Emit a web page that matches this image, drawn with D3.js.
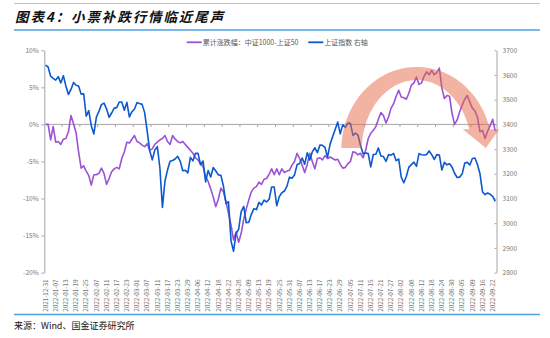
<!DOCTYPE html>
<html>
<head>
<meta charset="utf-8">
<script src="https://cdn.jsdelivr.net/npm/d3@7"></script>
<style>
  html, body { margin: 0; padding: 0; background: #fff; }
  svg { display: block; }
  text { font-family: "Noto Sans CJK SC", "Noto Sans", sans-serif; }
</style>
</head>
<body>
<svg id="chart" width="550" height="338"></svg>
<script>
// Trading days (Shanghai market), 2021-12-31 .. 2022-09-23
const dates = [
  "2021-12-31",
  "2022-01-04","2022-01-05","2022-01-06","2022-01-07","2022-01-10","2022-01-11","2022-01-12","2022-01-13","2022-01-14",
  "2022-01-17","2022-01-18","2022-01-19","2022-01-20","2022-01-21","2022-01-24","2022-01-25","2022-01-26","2022-01-27","2022-01-28",
  "2022-02-07","2022-02-08","2022-02-09","2022-02-10","2022-02-11","2022-02-14","2022-02-15","2022-02-16","2022-02-17","2022-02-18",
  "2022-02-21","2022-02-22","2022-02-23","2022-02-24","2022-02-25","2022-02-28",
  "2022-03-01","2022-03-02","2022-03-03","2022-03-04","2022-03-07","2022-03-08","2022-03-09","2022-03-10","2022-03-11","2022-03-14",
  "2022-03-15","2022-03-16","2022-03-17","2022-03-18","2022-03-21","2022-03-22","2022-03-23","2022-03-24","2022-03-25","2022-03-28",
  "2022-03-29","2022-03-30","2022-03-31",
  "2022-04-01","2022-04-06","2022-04-07","2022-04-08","2022-04-11","2022-04-12","2022-04-13","2022-04-14","2022-04-15","2022-04-18",
  "2022-04-19","2022-04-20","2022-04-21","2022-04-22","2022-04-25","2022-04-26","2022-04-27","2022-04-28","2022-04-29",
  "2022-05-05","2022-05-06","2022-05-09","2022-05-10","2022-05-11","2022-05-12","2022-05-13","2022-05-16","2022-05-17","2022-05-18",
  "2022-05-19","2022-05-20","2022-05-23","2022-05-24","2022-05-25","2022-05-26","2022-05-27","2022-05-30","2022-05-31",
  "2022-06-01","2022-06-02","2022-06-06","2022-06-07","2022-06-08","2022-06-09","2022-06-10","2022-06-13","2022-06-14","2022-06-15",
  "2022-06-16","2022-06-17","2022-06-20","2022-06-21","2022-06-22","2022-06-23","2022-06-24","2022-06-27","2022-06-28","2022-06-29","2022-06-30",
  "2022-07-01","2022-07-04","2022-07-05","2022-07-06","2022-07-07","2022-07-08","2022-07-11","2022-07-12","2022-07-13","2022-07-14",
  "2022-07-15","2022-07-18","2022-07-19","2022-07-20","2022-07-21","2022-07-22","2022-07-25","2022-07-26","2022-07-27","2022-07-28","2022-07-29",
  "2022-08-01","2022-08-02","2022-08-03","2022-08-04","2022-08-05","2022-08-08","2022-08-09","2022-08-10","2022-08-11","2022-08-12",
  "2022-08-15","2022-08-16","2022-08-17","2022-08-18","2022-08-19","2022-08-22","2022-08-23","2022-08-24","2022-08-25","2022-08-26",
  "2022-08-29","2022-08-30","2022-08-31",
  "2022-09-01","2022-09-02","2022-09-05","2022-09-06","2022-09-07","2022-09-08","2022-09-09","2022-09-13","2022-09-14","2022-09-15",
  "2022-09-16","2022-09-19","2022-09-20","2022-09-21","2022-09-22","2022-09-23"
];

// Cumulative return spread, CSI 1000 minus SSE 50 (%), left axis
const spread = [
   0.0,  0.0, -2.1, -0.3, -2.4, -2.3, -2.7, -2.0, -1.9, -1.0,
   1.2,  0.1, -1.1, -3.7, -5.9, -5.6, -6.3, -6.9, -8.2, -6.8,
  -6.8, -6.6, -5.9, -6.6, -8.1, -7.3, -6.4, -6.0, -5.8, -6.0,
  -4.6, -3.7, -2.4, -2.5, -2.0, -1.5, -2.3, -2.5, -2.8, -3.0,
  -2.6, -3.5, -3.3, -2.7, -2.4, -2.1, -1.9, -1.5, -2.3, -2.7,
  -1.5, -2.0, -2.3, -2.5, -2.3, -2.7, -3.1, -3.5, -3.9, -4.5,
  -4.8, -5.3, -5.7, -7.1, -7.7, -8.7, -9.8, -11.1, -10.1, -8.6,
  -9.1, -10.4, -12.0, -13.6, -15.6, -14.5, -15.9, -14.7, -12.8, -11.4,
  -10.2, -9.1, -8.6, -8.4, -7.8, -8.1, -7.4, -7.3, -6.7, -6.0,
  -6.8, -6.0, -6.8, -6.0, -6.5, -6.3, -6.2, -5.5, -5.0, -3.9,
  -4.6, -5.5, -6.5, -5.4, -3.9, -5.0, -6.0, -4.6, -4.5, -4.8,
  -4.2, -4.6, -4.4, -4.6, -4.8, -4.7, -5.4, -5.9, -5.8, -5.3,
  -5.0, -3.7, -3.8, -4.1, -3.9, -4.5, -3.5, -1.9, -1.2, -0.8,
  -0.3,  0.7,  1.6,  1.2,  0.2,  1.0,  2.2,  2.8,  3.8,  4.6,
   3.7,  3.6,  3.4,  4.2,  5.3,  5.6,  6.4,  5.4,  5.6,  6.5,
   7.1,  6.7,  7.3,  6.7,  7.0,  7.6,  4.9,  3.5,  3.9,  3.8,
   1.5,  0.0,  0.6,  1.7,  2.6,  3.4,  3.9,  3.0,  2.2,  1.8,
   1.0, -1.0, -0.8, -1.9, -0.9, -0.2,  0.7, -0.9
];

// SSE Composite close, right axis
const sse = [
  3639.78,
  3632.33,3595.18,3586.08,3579.54,3593.52,3567.44,3597.43,3555.26,3521.26,
  3541.67,3569.91,3558.18,3555.06,3522.57,3524.11,3433.06,3455.67,3394.25,3361.44,
  3429.58,3452.63,3479.95,3485.91,3462.95,3428.88,3446.09,3465.83,3468.04,3490.76,
  3490.61,3457.15,3489.15,3429.96,3451.41,3462.31,
  3488.83,3484.19,3481.11,3447.65,3372.86,3293.53,3256.39,3296.09,3309.75,3223.53,
  3063.97,3170.71,3215.04,3251.07,3253.69,3259.86,3271.03,3250.26,3212.24,3214.50,
  3203.94,3266.60,3252.20,
  3282.72,3283.43,3236.70,3251.85,3167.13,3213.33,3186.82,3225.64,3211.24,3195.52,
  3194.03,3151.05,3079.81,3086.92,2928.51,2886.43,2958.28,2975.48,3047.06,
  3067.76,3001.56,3004.14,3035.84,3058.70,3054.99,3084.28,3073.75,3093.70,3085.98,
  3096.96,3146.86,3146.57,3070.93,3107.46,3123.11,3130.24,3149.06,3186.43,
  3182.16,3195.46,3236.37,3241.76,3263.79,3238.95,3284.83,3255.55,3288.91,3305.41,
  3285.38,3316.79,3315.43,3306.72,3267.20,3320.15,3349.75,3379.19,3409.21,3361.52,3398.62,
  3387.64,3405.43,3404.03,3355.35,3364.40,3356.08,3313.58,3281.47,3284.29,3281.74,
  3228.06,3278.10,3279.43,3304.72,3272.00,3269.97,3250.39,3277.44,3275.76,3282.58,3253.24,
  3259.96,3186.27,3163.67,3189.04,3227.03,3236.93,3247.43,3230.02,3281.67,3276.89,
  3276.09,3277.88,3292.53,3277.54,3258.08,3277.79,3276.22,3215.20,3246.25,3236.22,
  3240.73,3227.22,3202.14,
  3184.98,3186.48,3199.91,3243.45,3246.29,3235.59,3262.05,3263.80,3237.54,3199.92,
  3126.40,3115.60,3122.41,3117.18,3108.91,3088.37
];

const leftTicks  = [-20, -15, -10, -5, 0, 5, 10];
const rightTicks = [2800, 2900, 3000, 3100, 3200, 3300, 3400, 3500, 3600, 3700];
const seriesNames = ["累计涨跌幅：中证1000-上证50", "上证指数 右轴"];
const titleText  = "图表4：小票补跌行情临近尾声";
const sourceText = "来源：Wind、国金证券研究所";

const COLORS = { spread: "#9b52d3", sse: "#0b58cf", axis: "#a6a6a6", label: "#767676", rule: "#4ea1e0" };

const svg = d3.select("#chart");
const plot = { left: 44.3, right: 496.5, top: 50.3, bottom: 272.6 };

const x = d3.scaleBand().domain(d3.range(dates.length)).range([plot.left, plot.right]);
// centre of a category; accepts fractional positions for annotations
const cx = t => x(0) + (t + 0.5) * x.step();
const yL = d3.scaleLinear().domain([-20, 10]).range([plot.bottom, plot.top]);
const yR = d3.scaleLinear().domain([2800, 3700]).range([plot.bottom, plot.top]);

// Header and footer rules
svg.append("line").attr("x1", 14).attr("x2", 540).attr("y1", 3.5).attr("y2", 3.5)
  .attr("stroke", COLORS.rule).attr("stroke-width", 1.2).attr("opacity", 0.55);
svg.append("line").attr("x1", 14).attr("x2", 540).attr("y1", 30).attr("y2", 30)
  .attr("stroke", COLORS.rule).attr("stroke-width", 1.5);
svg.append("line").attr("x1", 14).attr("x2", 540).attr("y1", 314.5).attr("y2", 314.5)
  .attr("stroke", COLORS.rule).attr("stroke-width", 1.5);

svg.append("text").attr("x", 15).attr("y", 22)
  .attr("font-size", 13.5).attr("font-weight", 700).attr("font-style", "italic")
  .attr("letter-spacing", 1.9).attr("fill", "#111").text(titleText);

svg.append("text").attr("x", 14).attr("y", 329)
  .attr("font-size", 9).attr("fill", "#111").text(sourceText);

// Legend
const legend = svg.append("g").attr("font-size", 7).attr("fill", "#595959");
[[186.7, seriesNames[0], COLORS.spread], [308.3, seriesNames[1], COLORS.sse]].forEach(([lx, name, c]) => {
  legend.append("line").attr("x1", lx).attr("x2", lx + 15).attr("y1", 42.3).attr("y2", 42.3)
    .attr("stroke", c).attr("stroke-width", 1.8);
  legend.append("text").attr("x", lx + 16).attr("y", 44.8).text(name);
});

// Left axis (%)
const axL = svg.append("g").attr("transform", `translate(${plot.left},0)`)
  .call(d3.axisLeft(yL).tickValues(leftTicks).tickSize(3).tickSizeOuter(0).tickPadding(2.5)
    .tickFormat(d => d + "%"));
// Right axis (index level)
const axR = svg.append("g").attr("transform", `translate(${plot.right},0)`)
  .call(d3.axisRight(yR).tickValues(rightTicks).tickSize(-2).tickSizeOuter(0).tickPadding(6)
    .tickFormat(d3.format("d")));
[axL, axR].forEach(g => {
  g.select(".domain").attr("stroke", COLORS.axis);
  g.selectAll(".tick line").attr("stroke", COLORS.axis);
  g.selectAll(".tick text").attr("fill", COLORS.label).attr("font-size", 6.6)
    .attr("font-family", "'Noto Sans', sans-serif");
});

// Category axis crossing at 0%
const y0 = yL(0);
svg.append("line").attr("x1", plot.left).attr("x2", plot.right).attr("y1", y0).attr("y2", y0)
  .attr("stroke", COLORS.axis).attr("stroke-width", 1);
svg.append("g").selectAll("line")
  .data(d3.range(7, dates.length, 7))
  .join("line")
  .attr("x1", k => x(k)).attr("x2", k => x(k))
  .attr("y1", y0).attr("y2", y0 + 2.6)
  .attr("stroke", COLORS.axis);

// Date labels, every 4th trading day
svg.append("g").selectAll("text")
  .data(d3.range(0, dates.length, 4))
  .join("text")
  .attr("transform", i => `translate(${cx(i)},279.5) rotate(-90)`)
  .attr("text-anchor", "end").attr("dy", "0.35em")
  .attr("font-size", 6.3).attr("font-family", "'Noto Sans', sans-serif")
  .attr("fill", COLORS.label)
  .text(i => dates[i]);

// Series lines
const lineL = d3.line().x((d, i) => cx(i)).y(d => yL(d));
const lineR = d3.line().x((d, i) => cx(i)).y(d => yR(d));
svg.append("path").datum(spread).attr("d", lineL)
  .attr("fill", "none").attr("stroke", COLORS.spread).attr("stroke-width", 1.6)
  .attr("stroke-linejoin", "round");
svg.append("path").datum(sse).attr("d", lineR)
  .attr("fill", "none").attr("stroke", COLORS.sse).attr("stroke-width", 1.6)
  .attr("stroke-linejoin", "round");

// Curved annotation arrow over the recent spread peak
(function drawArrow() {
  const acx = cx(146.1), acy = yL(-3.45);
  const outer = { rx: acx - cx(116.4), ry: acy - yL(7.75) };
  const inner = { rx: outer.rx - 20.5, ry: outer.ry - 13 };
  const legY = yL(-3.2), headY = yL(-0.65), tipY = yL(-3.2);
  const clamp = v => Math.max(-1, Math.min(1, v));
  const ox = acx + outer.rx * Math.sqrt(1 - ((acy - headY) / outer.ry) ** 2);
  const ix = acx + inner.rx * Math.sqrt(1 - ((acy - headY) / inner.ry) ** 2);
  const p = d3.path();
  const steps = 60;
  // outer edge: left leg up and over to the right
  const a0 = Math.PI - Math.asin(clamp((acy - legY) / outer.ry));
  const a1 = Math.asin(clamp((acy - headY) / outer.ry));
  p.moveTo(acx + outer.rx * Math.cos(a0), legY);
  for (let s = 1; s <= steps; s++) {
    const a = a0 + (a1 - a0) * s / steps;
    p.lineTo(acx + outer.rx * Math.cos(a), acy - outer.ry * Math.sin(a));
  }
  // arrowhead
  p.lineTo(ox + 9.5, headY);
  p.lineTo(ox - 4, tipY);
  p.lineTo(ix - 6.5, headY);
  // inner edge back to the left leg
  const b0 = Math.asin(clamp((acy - headY) / inner.ry));
  const b1 = Math.PI - Math.asin(clamp((acy - legY) / inner.ry));
  for (let s = 0; s <= steps; s++) {
    const a = b0 + (b1 - b0) * s / steps;
    p.lineTo(acx + inner.rx * Math.cos(a), acy - inner.ry * Math.sin(a));
  }
  p.closePath();
  svg.append("path").attr("d", p.toString())
    .attr("fill", "rgb(232,104,72)").attr("fill-opacity", 0.5);
})();
</script>
</body>
</html>
